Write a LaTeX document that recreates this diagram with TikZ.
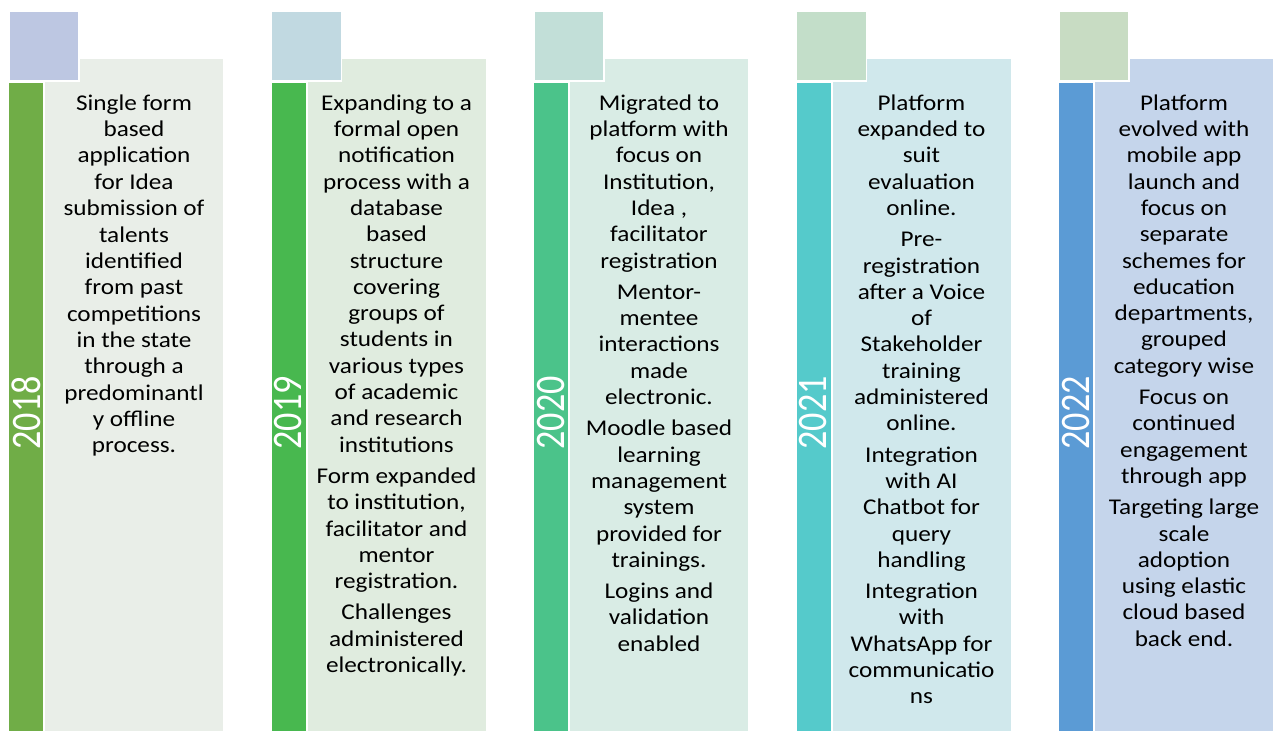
\documentclass[tikz,border=0pt]{standalone}
\usepackage{fontspec}
\setmainfont{Carlito}
\usepackage{graphicx}
\definecolor{sqA}{HTML}{BDC7E2}\definecolor{barA}{HTML}{70AD47}\definecolor{boxA}{HTML}{E9EEE8}
\definecolor{sqB}{HTML}{C1D9E1}\definecolor{barB}{HTML}{48B84F}\definecolor{boxB}{HTML}{E0ECDF}
\definecolor{sqC}{HTML}{C2DFD8}\definecolor{barC}{HTML}{4BC38A}\definecolor{boxC}{HTML}{D9ECE5}
\definecolor{sqD}{HTML}{C3DEC9}\definecolor{barD}{HTML}{55CACB}\definecolor{boxD}{HTML}{D0E8EC}
\definecolor{sqE}{HTML}{C8DCC3}\definecolor{barE}{HTML}{5B9BD5}\definecolor{boxE}{HTML}{C5D5EB}
\tikzset{
  sqbox/.style={draw=white, line width=1.2pt},
  bodytext/.style={anchor=north, inner sep=0pt, text=black,
    font=\fontsize{22.5}{26.3}\selectfont},
  yeartext/.style={rotate=90, inner sep=0pt, text=white,
    font=\fontsize{42}{44}\selectfont}
}
\newcommand{\yr}[1]{\scalebox{0.86}[1]{#1}}
\newcommand{\wtxt}[1]{\scalebox{1.12}[1]{\begin{tabular}{@{}c@{}}#1\end{tabular}}}
\begin{document}
\begin{tikzpicture}[x=1pt,y=-1pt]
\useasboundingbox (0,0) rectangle (1275,731);
\fill[white] (0,0) rectangle (1275,731);
% column shapes
\foreach \i/\c in {0/A,1/B,2/C,3/D,4/E}{
  \pgfmathsetmacro{\xo}{9+262.5*\i}
  \fill[box\c] (\xo+36,59) rectangle (\xo+214,731);
  \fill[bar\c] (\xo,83) rectangle (\xo+34,731);
  \filldraw[sqbox, fill=sq\c] (\xo,11) rectangle (\xo+70,81);
}
% years
\node[yeartext] (y1) at (26,413) {\yr{2018}};
\node[yeartext] (y2) at (288.5,413) {\yr{2019}};
\node[yeartext] (y3) at (551,413) {\yr{2020}};
\node[yeartext] (y4) at (813.5,413) {\yr{2021}};
\node[yeartext] (y5) at (1076,413) {\yr{2022}};
% texts
\node[bodytext] (t1) at (134,91.6) {\wtxt{Single form\\ based\\ application\\ for Idea\\ submission of\\[0.5pt] talents\\ identified\\ from past\\ competitions\\ in the state\\ through a\\ predominantl\\ y offline\\ process.}};
\node[bodytext] (t2) at (396.5,91.6) {\wtxt{Expanding to a\\ formal open\\ notification\\ process with a\\ database\\ based\\ structure\\ covering\\ groups of\\ students in\\ various types\\ of academic\\ and research\\ institutions\\[5pt] Form expanded\\ to institution,\\ facilitator and\\ mentor\\ registration.\\[5pt] Challenges\\ administered\\ electronically.}};
\node[bodytext] (t3) at (659,91.6) {\wtxt{Migrated to\\ platform with\\ focus on\\ Institution,\\ Idea ,\\ facilitator\\ registration\\[5pt] Mentor-\\ mentee\\ interactions\\ made\\ electronic.\\[5pt] Moodle based\\ learning\\ management\\ system\\ provided for\\ trainings.\\[5pt] Logins and\\ validation\\ enabled}};
\node[bodytext] (t4) at (921.5,91.6) {\wtxt{Platform\\ expanded to\\ suit\\ evaluation\\ online.\\[5pt] Pre-\\ registration\\ after a Voice\\ of\\ Stakeholder\\ training\\ administered\\ online.\\[5pt] Integration\\ with AI\\ Chatbot for\\ query\\ handling\\[5pt] Integration\\ with\\ WhatsApp for\\ communicatio\\ ns}};
\node[bodytext] (t5) at (1184,91.6) {\wtxt{Platform\\ evolved with\\ mobile app\\ launch and\\ focus on\\ separate\\ schemes for\\ education\\ departments,\\ grouped\\ category wise\\[5pt] Focus on\\ continued\\ engagement\\ through app\\[5pt] Targeting large\\ scale\\ adoption\\ using elastic\\ cloud based\\ back end.}};
\end{tikzpicture}
\end{document}
